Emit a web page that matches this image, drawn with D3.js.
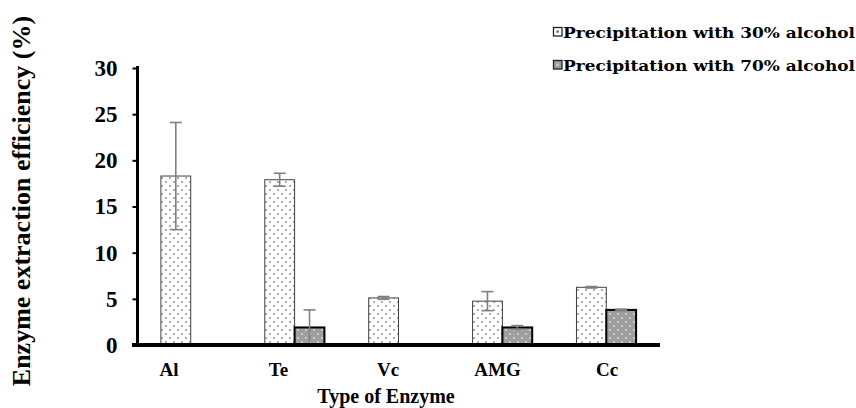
<!DOCTYPE html>
<html>
<head>
<meta charset="utf-8">
<script src="https://cdn.jsdelivr.net/npm/d3@7"></script>
<style>
  body { margin: 0; background: #fff; }
  svg { display: block; }
</style>
</head>
<body>
<div id="chart"></div>
<script>
// Data
const categories = ["Al", "Te", "Vc", "AMG", "Cc"];
const seriesNames = ["Precipitation with 30% alcohol", "Precipitation with 70% alcohol"];
const values30 = [18.3, 17.9, 5.1, 4.75, 6.25];
const errors30 = [5.8, 0.7, 0.15, 1.03, 0.08];
const values70 = [0, 1.9, 0, 1.9, 3.8];
const errors70 = [0, 1.9, 0, 0.2, 0.08];
const yTicks = [0, 5, 10, 15, 20, 25, 30];

const width = 856, height = 408;
const serif = "'Liberation Serif', 'Times New Roman', serif";

const svg = d3.select("#chart").append("svg")
  .attr("width", width)
  .attr("height", height)
  .style("background", "#fff");

// Patterns
const defs = svg.append("defs");
const p30 = defs.append("pattern")
  .attr("id", "dots30").attr("patternUnits", "userSpaceOnUse")
  .attr("width", 8).attr("height", 8);
p30.append("rect").attr("width", 8).attr("height", 8).attr("fill", "#fff");
p30.append("circle").attr("cx", 2).attr("cy", 2).attr("r", 0.95).attr("fill", "#8a8a8a");
p30.append("circle").attr("cx", 6).attr("cy", 6).attr("r", 0.95).attr("fill", "#8a8a8a");

const p70 = defs.append("pattern")
  .attr("id", "dots70").attr("patternUnits", "userSpaceOnUse")
  .attr("width", 8).attr("height", 8);
p70.append("rect").attr("width", 8).attr("height", 8).attr("fill", "#9e9e9e");
p70.append("circle").attr("cx", 2).attr("cy", 2).attr("r", 1).attr("fill", "#d9d9d9");
p70.append("circle").attr("cx", 6).attr("cy", 6).attr("r", 1).attr("fill", "#d9d9d9");

// Scales
const x = d3.scaleBand()
  .domain(categories)
  .range([137, 660])
  .paddingInner(0.426)
  .paddingOuter(0.23);

const xs = d3.scaleBand()
  .domain([0, 1])
  .range([0, x.bandwidth()]);

const y = d3.scaleLinear()
  .domain([0, 30])
  .range([345, 68]);

// Label positions in the reference drift left of the bar groups
const xLabel = d3.scalePoint()
  .domain(categories)
  .range([169, 607]);

const series = [
  { name: seriesNames[0], values: values30, errors: errors30, fill: "url(#dots30)", stroke: "#404040", sw: 1 },
  { name: seriesNames[1], values: values70, errors: errors70, fill: "url(#dots70)", stroke: "#000", sw: 2 }
];

// Bars
series.forEach((s, si) => {
  svg.append("g").selectAll("rect")
    .data(categories.map((c, i) => ({ c, v: s.values[i] })).filter(d => d.v > 0))
    .join("rect")
    .attr("x", d => x(d.c) + xs(si))
    .attr("y", d => y(d.v))
    .attr("width", xs.bandwidth())
    .attr("height", d => y(0) - y(d.v))
    .attr("fill", s.fill)
    .attr("stroke", s.stroke)
    .attr("stroke-width", s.sw);
});

// Error bars
series.forEach((s, si) => {
  const g = svg.append("g")
    .attr("stroke", "#808080")
    .attr("stroke-width", 1.6);
  const eb = categories.map((c, i) => ({ c, v: s.values[i], e: s.errors[i] })).filter(d => d.v > 0);
  eb.forEach(d => {
    const cx = x(d.c) + xs(si) + xs.bandwidth() / 2;
    const lo = Math.max(0, d.v - d.e), hi = d.v + d.e;
    g.append("line").attr("x1", cx).attr("x2", cx).attr("y1", y(lo)).attr("y2", y(hi));
    g.append("line").attr("x1", cx - 6).attr("x2", cx + 6).attr("y1", y(hi)).attr("y2", y(hi));
    if (d.v - d.e > 0) {
      g.append("line").attr("x1", cx - 6).attr("x2", cx + 6).attr("y1", y(lo)).attr("y2", y(lo));
    }
  });
});

// Y axis
const yAxis = svg.append("g")
  .attr("transform", "translate(137.5,0)")
  .call(d3.axisLeft(y).tickValues(yTicks).tickSize(5).tickPadding(15));
yAxis.select(".domain").remove();
yAxis.selectAll(".tick line").attr("stroke", "#000").attr("stroke-width", 2);
yAxis.selectAll(".tick text")
  .attr("font-family", serif)
  .attr("font-weight", "bold")
  .attr("font-size", 23)
  .attr("fill", "#000");

svg.append("line")
  .attr("x1", 137.5).attr("x2", 137.5)
  .attr("y1", y(30) - 2).attr("y2", y(0))
  .attr("stroke", "#000").attr("stroke-width", 3);

// X axis
svg.append("line")
  .attr("x1", 132).attr("x2", 660)
  .attr("y1", y(0)).attr("y2", y(0))
  .attr("stroke", "#000").attr("stroke-width", 4);

svg.append("g").selectAll("text")
  .data(categories)
  .join("text")
  .attr("x", d => xLabel(d))
  .attr("y", 376)
  .attr("text-anchor", "middle")
  .attr("font-family", serif)
  .attr("font-weight", "bold")
  .attr("font-size", 19)
  .text(d => d);

// Axis titles
svg.append("text")
  .attr("x", 386)
  .attr("y", 403)
  .attr("text-anchor", "middle")
  .attr("font-family", serif)
  .attr("font-weight", "bold")
  .attr("font-size", 20)
  .text("Type of Enzyme");

svg.append("text")
  .attr("transform", "translate(30,201) rotate(-90)")
  .attr("text-anchor", "middle")
  .attr("font-family", serif)
  .attr("font-weight", "bold")
  .attr("font-size", 26)
  .text("Enzyme extraction efficiency (%)");

// Legend
const legend = svg.append("g").attr("transform", "translate(553,27)");
series.forEach((s, i) => {
  const row = legend.append("g").attr("transform", `translate(0,${i * 33})`);
  row.append("rect")
    .attr("x", 0.5).attr("y", 0.5)
    .attr("width", 8.5).attr("height", 8.5)
    .attr("fill", i === 0 ? "#fff" : "#9e9e9e")
    .attr("stroke", "#222").attr("stroke-width", 1.3);
  row.append("rect")
    .attr("x", 3.5).attr("y", 3.5).attr("width", 2.2).attr("height", 2.2)
    .attr("fill", i === 0 ? "#555" : "#ddd");
  row.append("text")
    .attr("x", 10)
    .attr("y", 11)
    .attr("font-family", "'DejaVu Serif', serif")
    .attr("font-weight", "bold")
    .attr("font-size", 15)
    .attr("textLength", 292)
    .attr("lengthAdjust", "spacingAndGlyphs")
    .text(s.name);
});
</script>
</body>
</html>
